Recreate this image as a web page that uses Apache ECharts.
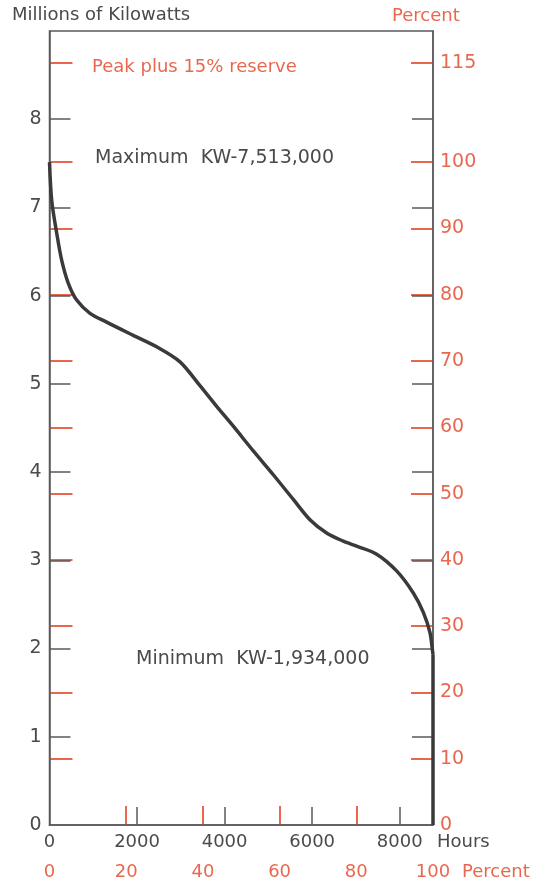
<!DOCTYPE html>
<html><head><meta charset="utf-8">
<script src="https://cdn.jsdelivr.net/npm/echarts@6/dist/echarts.min.js"></script>
<style>html,body{margin:0;padding:0;background:#fff}#c{width:549px;height:881px}</style>
</head><body><div id="c"></div>
<script>
// Load duration curve data (hours of year vs millions of kW)
const hours = [0, 50, 164, 279, 430, 621, 925, 1305, 1913, 2448, 2981, 3437, 3818, 4198, 4655, 5112, 5569, 5949, 6330, 6700, 7016, 7473, 7929, 8310, 8539, 8691, 8745, 8760];
const megawatts = [7.513, 7.08, 6.71, 6.40, 6.14, 5.95, 5.80, 5.70, 5.55, 5.42, 5.25, 4.98, 4.745, 4.52, 4.24, 3.97, 3.69, 3.46, 3.31, 3.22, 3.16, 3.07, 2.88, 2.63, 2.41, 2.18, 1.99, 1.934];
const dropHours = [8760, 8760];
const dropMW = [1.934, 0];

const peakMW = 7.513;
const yMaxMW = 9;
const hoursMax = 8760;
const mwTicks = [1, 2, 3, 4, 5, 6, 7, 8];
const mwLabels = [0, 1, 2, 3, 4, 5, 6, 7, 8];
const pctTicks = [10, 20, 30, 40, 50, 60, 70, 80, 90, 100, 115];
const pctLabels = [0, 10, 20, 30, 40, 50, 60, 70, 80, 90, 100, 115];
const hourTicks = [2000, 4000, 6000, 8000];
const hourLabels = [0, 2000, 4000, 6000, 8000];
const timePctTicks = [20, 40, 60, 80];
const timePctLabels = [0, 20, 40, 60, 80, 100];

const RED = '#e8684f';
const INK = '#4a4a4a';
const AX = '#5a5a5a';
const FONT = '"DejaVu Sans", sans-serif';

const chart = echarts.init(document.getElementById('c'), null, {renderer: 'canvas'});
const pctMax = yMaxMW / peakMW * 100;

chart.setOption({
  animation: false,
  backgroundColor: '#fff',
  grid: {left: 49.5, right: 116, top: 31, bottom: 55, show: true, borderColor: AX, borderWidth: 1.5, backgroundColor: 'transparent'},
  xAxis: [
    {type: 'value', min: 0, max: hoursMax, interval: 2000, position: 'bottom', z: 3,
     axisLine: {show: true, lineStyle: {color: AX, width: 1.5}},
     axisTick: {show: true, inside: true, length: 18, customValues: hourTicks, lineStyle: {color: AX, width: 1.5}},
     axisLabel: {customValues: hourLabels, formatter: v => String(v), color: INK, fontFamily: FONT, fontSize: 18, margin: 8},
     splitLine: {show: false}},
    {type: 'value', min: 0, max: 100, interval: 20, position: 'bottom', z: 1,
     axisLine: {show: false},
     axisTick: {show: true, inside: true, length: 19, customValues: timePctTicks, lineStyle: {color: RED, width: 2}},
     axisLabel: {customValues: timePctLabels, formatter: v => String(v), color: RED, fontFamily: FONT, fontSize: 18, margin: 38},
     splitLine: {show: false}}
  ],
  yAxis: [
    {type: 'value', min: 0, max: yMaxMW, interval: 1, position: 'left', z: 3,
     axisLine: {show: true, lineStyle: {color: AX, width: 1.5}},
     axisTick: {show: true, inside: true, length: 21, customValues: mwTicks, lineStyle: {color: AX, width: 1.5}},
     axisLabel: {customValues: mwLabels, color: INK, fontFamily: FONT, fontSize: 19, margin: 8},
     splitLine: {show: false}},
    {type: 'value', min: 0, max: pctMax, position: 'left', z: 2,
     axisLine: {show: false},
     axisTick: {show: true, inside: true, length: 23, customValues: pctTicks, lineStyle: {color: RED, width: 2}},
     axisLabel: {show: false}, splitLine: {show: false}},
    {type: 'value', min: 0, max: pctMax, position: 'right', z: 2,
     axisLine: {show: false},
     axisTick: {show: true, inside: true, length: 22, customValues: pctTicks, lineStyle: {color: RED, width: 2}},
     axisLabel: {customValues: pctLabels, color: RED, fontFamily: FONT, fontSize: 19, margin: 7},
     splitLine: {show: false}},
    {type: 'value', min: 0, max: yMaxMW, interval: 1, position: 'right', z: 3,
     axisLine: {show: true, lineStyle: {color: AX, width: 1.5}},
     axisTick: {show: true, inside: true, length: 21, customValues: mwTicks, lineStyle: {color: AX, width: 1.5}},
     axisLabel: {show: false}, splitLine: {show: false}}
  ],
  series: [
    {type: 'line', xAxisIndex: 0, yAxisIndex: 0, smooth: 0.3, symbol: 'none', z: 5,
     lineStyle: {color: '#3a3a3a', width: 3.5},
     data: hours.map((h, i) => [h, megawatts[i]])},
    {type: 'line', xAxisIndex: 0, yAxisIndex: 0, symbol: 'none', z: 5,
     lineStyle: {color: '#3a3a3a', width: 3.5},
     data: dropHours.map((h, i) => [h, dropMW[i]])}
  ],
  graphic: [
    {type: 'text', left: 12, top: 6, style: {text: 'Millions of Kilowatts', fill: INK, font: '18px ' + FONT}},
    {type: 'text', left: 392, top: 7, style: {text: 'Percent', fill: RED, font: '18px ' + FONT}},
    {type: 'text', left: 92, top: 58, style: {text: 'Peak plus 15% reserve', fill: RED, font: '18px ' + FONT}},
    {type: 'text', left: 95, top: 149, style: {text: 'Maximum  KW-7,513,000', fill: INK, font: '19px ' + FONT}},
    {type: 'text', left: 136, top: 650, style: {text: 'Minimum  KW-1,934,000', fill: INK, font: '19px ' + FONT}},
    {type: 'text', left: 437, top: 833, style: {text: 'Hours', fill: INK, font: '18px ' + FONT}},
    {type: 'text', left: 462, top: 863, style: {text: 'Percent', fill: RED, font: '18px ' + FONT}}
  ]
});
</script>
</body></html>
